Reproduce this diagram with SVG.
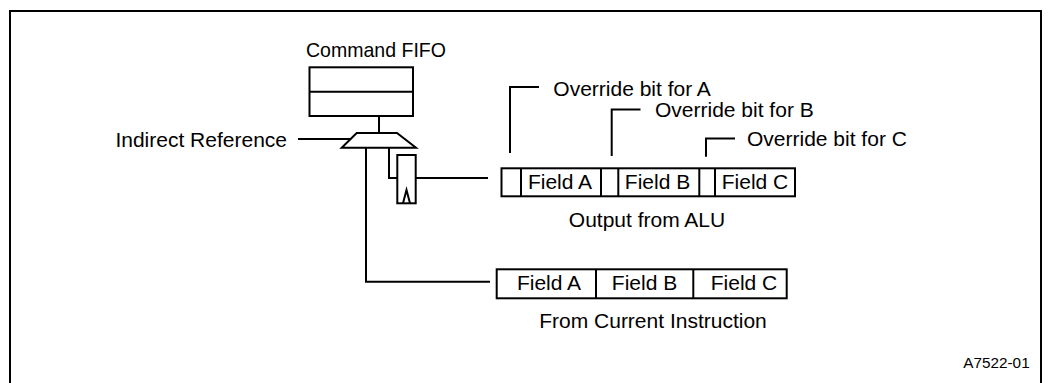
<svg xmlns="http://www.w3.org/2000/svg" width="1052" height="383" viewBox="0 0 1052 383">
<style>
.ln{fill:none;stroke:#000;stroke-width:2}
.bx{fill:#fff;stroke:#000;stroke-width:2}
.t{font-family:"Liberation Sans",Arial,sans-serif;font-size:21px;fill:#000}
.s{font-family:"Liberation Sans",Arial,sans-serif;font-size:15.3px;fill:#000}
.m{text-anchor:middle}
</style>
<rect width="1052" height="383" fill="#fff"/>
<path class="ln" d="M10,390 V11 H1041 V390"/>
<g id="connectors">
<line class="ln" x1="379" y1="116" x2="379" y2="133"/>
<line class="ln" x1="298" y1="139" x2="351" y2="139"/>
<polyline class="ln" points="366,147.7 366,281.7 490,281.7"/>
<polyline class="ln" points="389,147.7 389,178 397.3,178"/>
<line class="ln" x1="415.7" y1="178" x2="488" y2="178"/>
<polyline class="ln" points="510,153 510,87 539,87"/>
<polyline class="ln" points="611.7,156 611.7,109.5 640.5,109.5"/>
<polyline class="ln" points="706,156.7 706,138.5 735,138.5"/>
</g>
<g id="command-fifo">
<text class="t" x="306" y="56.7" textLength="140" lengthAdjust="spacingAndGlyphs">Command FIFO</text>
<rect class="bx" x="309.5" y="67.3" width="103.5" height="48.7"/>
<line class="ln" x1="309.5" y1="91.7" x2="413" y2="91.7"/>
</g>
<g id="mux">
<polygon class="bx" points="356.7,133 397,133 416,147.7 341.7,147.7"/>
</g>
<g id="indirect-reference">
<text class="t" x="287" y="146.7" text-anchor="end">Indirect Reference</text>
</g>
<g id="register">
<rect class="bx" x="397.3" y="155" width="18.4" height="48.3"/>
<polyline class="ln" points="403,203.3 406.5,190 410,203.3"/>
</g>
<g id="output-from-alu">
<rect class="bx" x="501.5" y="168.3" width="293.5" height="28"/>
<line class="ln" x1="521" y1="168.3" x2="521" y2="196.3"/>
<line class="ln" x1="601" y1="168.3" x2="601" y2="196.3"/>
<line class="ln" x1="618.3" y1="168.3" x2="618.3" y2="196.3"/>
<line class="ln" x1="699.3" y1="168.3" x2="699.3" y2="196.3"/>
<line class="ln" x1="715" y1="168.3" x2="715" y2="196.3"/>
<text class="t m" x="560" y="188.5">Field A</text>
<text class="t m" x="657.5" y="188.5">Field B</text>
<text class="t m" x="755" y="188.5">Field C</text>
<text class="t m" x="647" y="226.7">Output from ALU</text>
</g>
<g id="override-a"><text class="t" x="553.3" y="95.7">Override bit for A</text></g>
<g id="override-b"><text class="t" x="655" y="117.3">Override bit for B</text></g>
<g id="override-c"><text class="t" x="747" y="145.7">Override bit for C</text></g>
<g id="from-current-instruction">
<rect class="bx" x="496.7" y="269.3" width="290" height="29"/>
<line class="ln" x1="596" y1="269.3" x2="596" y2="298.3"/>
<line class="ln" x1="693.3" y1="269.3" x2="693.3" y2="298.3"/>
<text class="t m" x="549" y="290.2">Field A</text>
<text class="t m" x="644.5" y="290.2">Field B</text>
<text class="t m" x="744" y="290.2">Field C</text>
<text class="t m" x="653" y="328">From Current Instruction</text>
</g>
<g id="figure-id"><text class="s" x="963.3" y="368.3">A7522-01</text></g>
</svg>
